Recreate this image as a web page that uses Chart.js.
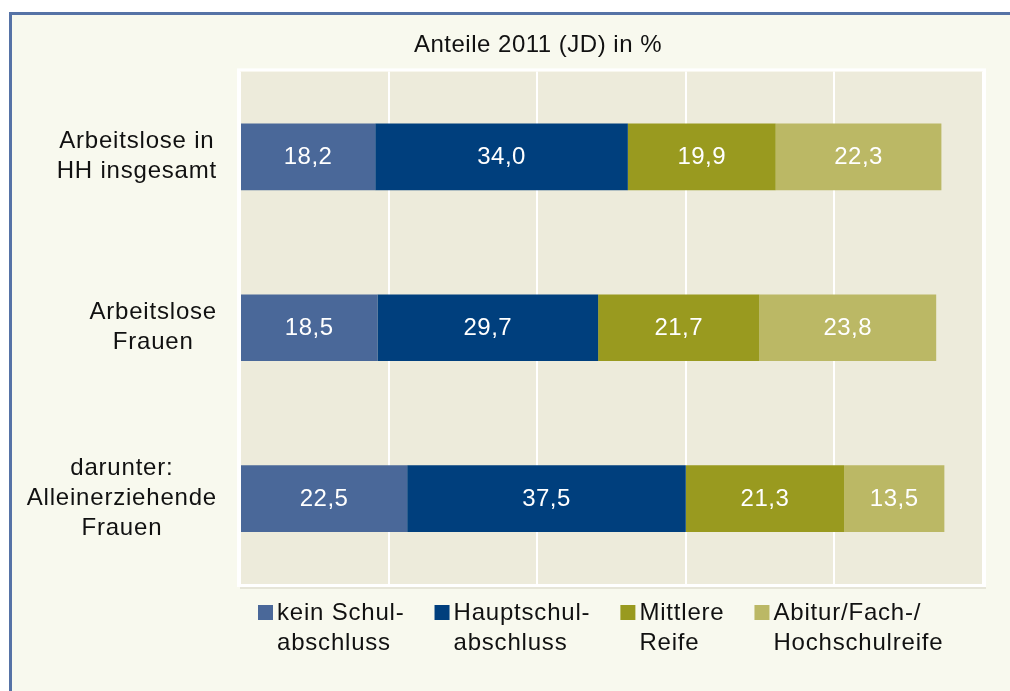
<!DOCTYPE html>
<html lang="de">
<head>
<meta charset="utf-8">
<title>Anteile 2011 (JD) in %</title>
<script src="https://cdn.jsdelivr.net/npm/chart.js@4/dist/chart.umd.min.js"></script>
<style>
    html, body { margin: 0; padding: 0; background: #fff; overflow: hidden; }
    #frame {
        position: absolute; left: 9px; top: 12px; width: 1100px; height: 800px;
        background: #f8f9ee;
        border-top: 3px solid #5673a6; border-left: 3px solid #5673a6;
    }
    #chart { position: absolute; left: 0; top: 0; }
</style>
</head>
<body>
<div id="frame"></div>
<canvas id="chart" width="1010" height="691"></canvas>
<script>
// Daten
const categories = [
    ['Arbeitslose in', 'HH insgesamt'],
    ['Arbeitslose', 'Frauen'],
    ['darunter:', 'Alleinerziehende', 'Frauen']
];
const seriesNames = [
    ['kein Schul-', 'abschluss'],
    ['Hauptschul-', 'abschluss'],
    ['Mittlere', 'Reife'],
    ['Abitur/Fach-/', 'Hochschulreife']
];
const keinAbschluss = [18.2, 18.5, 22.5];
const hauptschule = [34.0, 29.7, 37.5];
const mittlereReife = [19.9, 21.7, 21.3];
const abitur = [22.3, 23.8, 13.5];
const seriesColors = ['#4a6899', '#003f7d', '#999a1f', '#bbb865'];
const xTicks = [0, 20, 40, 60, 80, 100];

const FONT = "'Liberation Sans', Arial, sans-serif";
const TEXT_COLOR = '#111111';

const seriesValues = [keinAbschluss, hauptschule, mittlereReife, abitur];

// Hintergrund der Zeichenfläche + Textabstand
const plotBackground = {
    id: 'plotBackground',
    beforeDraw(chart) {
        const { ctx, chartArea: a } = chart;
        ctx.letterSpacing = '0.5px';
        ctx.save();
        ctx.fillStyle = '#edebdb';
        ctx.fillRect(a.left, a.top, a.right - a.left, a.bottom - a.top);
        ctx.strokeStyle = '#ffffff';
        ctx.lineWidth = 3;
        ctx.strokeRect(a.left - 1.5, a.top - 1.5, a.right - a.left + 3, a.bottom - a.top + 3);
        ctx.strokeStyle = '#e6e5d8';
        ctx.lineWidth = 2;
        ctx.beginPath();
        ctx.moveTo(a.left, a.bottom + 4);
        ctx.lineTo(a.right + 3, a.bottom + 4);
        ctx.stroke();
        ctx.restore();
    }
};

// Kategorienbeschriftung (zentrierte Zeilen, rechtsbündiger Block)
const categoryLabels = {
    id: 'categoryLabels',
    afterDraw(chart) {
        const { ctx, chartArea: a } = chart;
        const yScale = chart.scales.y;
        ctx.save();
        ctx.letterSpacing = '0.8px';
        ctx.font = '24px ' + FONT;
        ctx.fillStyle = TEXT_COLOR;
        ctx.textAlign = 'center';
        ctx.textBaseline = 'middle';
        const right = a.left - 23;
        categories.forEach((lines, i) => {
            const cy = yScale.getPixelForValue(i);
            const maxW = Math.max(...lines.map(l => ctx.measureText(l).width));
            const cx = right - maxW / 2;
            lines.forEach((line, j) => {
                ctx.fillText(line, cx, cy + (j - (lines.length - 1) / 2) * 30);
            });
        });
        ctx.restore();
    }
};

// Werte in den Balken
const valueLabels = {
    id: 'valueLabels',
    afterDatasetsDraw(chart) {
        const { ctx } = chart;
        ctx.save();
        ctx.letterSpacing = '0.5px';
        ctx.font = '24px ' + FONT;
        ctx.fillStyle = '#ffffff';
        ctx.textAlign = 'center';
        ctx.textBaseline = 'middle';
        chart.data.datasets.forEach((ds, di) => {
            chart.getDatasetMeta(di).data.forEach((bar, i) => {
                const text = ds.data[i].toFixed(1).replace('.', ',');
                ctx.fillText(text, (bar.x + bar.base) / 2, bar.y + 1);
            });
        });
        ctx.restore();
    }
};

// Legende unter dem Diagramm
const bottomLegend = {
    id: 'bottomLegend',
    afterDraw(chart) {
        const { ctx, chartArea: a } = chart;
        ctx.save();
        ctx.letterSpacing = '0.8px';
        ctx.font = '24px ' + FONT;
        ctx.textAlign = 'left';
        ctx.textBaseline = 'alphabetic';
        let x = a.left + 18;
        const top = a.bottom + 21;
        seriesNames.forEach((lines, i) => {
            ctx.fillStyle = seriesColors[i];
            ctx.fillRect(x, top, 15, 15);
            ctx.fillStyle = TEXT_COLOR;
            lines.forEach((line, j) => {
                ctx.fillText(line, x + 19, top + 15 + j * 30);
            });
            const maxW = Math.max(...lines.map(l => ctx.measureText(l).width));
            x += 19 + maxW + 30;
        });
        ctx.restore();
    }
};

const ctx = document.getElementById('chart').getContext('2d');
new Chart(ctx, {
    type: 'bar',
    data: {
        labels: categories,
        datasets: seriesValues.map((values, i) => ({
            label: seriesNames[i].join(''),
            data: values,
            backgroundColor: seriesColors[i],
            borderWidth: 0,
            barPercentage: 0.39,
            categoryPercentage: 1
        }))
    },
    options: {
        indexAxis: 'y',
        responsive: false,
        animation: false,
        layout: { padding: { left: 93, right: 27, top: 20, bottom: 107 } },
        plugins: {
            legend: { display: false },
            tooltip: { enabled: false },
            title: {
                display: true,
                text: 'Anteile 2011 (JD) in %',
                color: TEXT_COLOR,
                font: { family: FONT, size: 24, weight: 'normal', lineHeight: 1.1 },
                padding: { top: 12, bottom: 13 }
            }
        },
        scales: {
            x: {
                stacked: true,
                min: xTicks[0],
                max: xTicks[xTicks.length - 1],
                afterBuildTicks: scale => { scale.ticks = xTicks.map(v => ({ value: v })); },
                ticks: { display: false },
                grid: { color: '#ffffff', lineWidth: 2, drawTicks: false },
                border: { display: false }
            },
            y: {
                stacked: true,
                ticks: { display: false },
                grid: { display: false },
                border: { display: false },
                afterFit: scale => { scale.width = 147; }
            }
        }
    },
    plugins: [plotBackground, categoryLabels, valueLabels, bottomLegend]
});
</script>
</body>
</html>
